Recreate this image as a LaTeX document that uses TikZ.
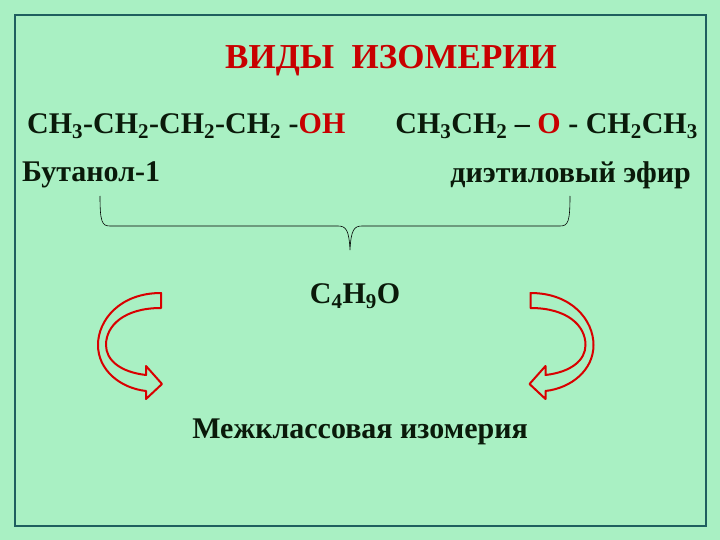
\documentclass[tikz,border=0pt]{standalone}
\usepackage{fontspec}
\setmainfont{Liberation Serif}
\begin{document}
\begin{tikzpicture}[x=1pt,y=-1pt,
  txt/.style={inner sep=0pt,font=\fontsize{30}{34}\selectfont\bfseries,text=textdark},
  frm/.style={inner sep=0pt,font=\fontsize{30}{34}\selectfont\bfseries,text=textdark},
  arr/.style={draw=red!85!black,line width=2pt,fill=bggreen,line join=round}]
\definecolor{bggreen}{HTML}{A9F0C3}
\definecolor{frame}{HTML}{1F5F5F}
\definecolor{dred}{HTML}{C80000}
\definecolor{textdark}{HTML}{0A1A0A}
\useasboundingbox (0,0) rectangle (720,540);
\fill[bggreen] (0,0) rectangle (720,540);
\draw[frame,line width=1.5pt] (15,15) rectangle (706,526);
\node[txt,text=dred,font=\fontsize{35}{38}\selectfont\bfseries] (title) at (391,61) {ВИДЫ\ \ ИЗОМЕРИИ};
\node[frm,anchor=west] (f1) at (27,126) {CH\textsubscript{3}-CH\textsubscript{2}-CH\textsubscript{2}-CH\textsubscript{2} -\textcolor{dred}{OH}};
\node[frm,anchor=east] (f2) at (698,126) {CH\textsubscript{3}CH\textsubscript{2} -- \textcolor{dred}{O} - CH\textsubscript{2}CH\textsubscript{3}};
\node[txt,anchor=west] (n1) at (22,175) {Бутанол-1};
\node[txt,anchor=east] (n2) at (691,175) {диэтиловый эфир};
\draw[black,line width=0.6pt] (100,196) .. controls (100,222) and (102,226) .. (110,226) -- (338,226) .. controls (346,226) and (349,230) .. (350,250)
  (350,250) .. controls (351,230) and (354,226) .. (362,226) -- (560,226) .. controls (568,226) and (570,222) .. (570,196);
\node[txt] (c4) at (355,296) {C\textsubscript{4}H\textsubscript{9}O};
\node[txt] (mk) at (360,432) {Межклассовая изомерия};
\draw[arr] (161,293) .. controls (120,293) and (98,320) .. (98,345) .. controls (98,370) and (120,388) .. (146,391) -- (146,399) -- (162,384) -- (146,366) -- (146,375) .. controls (120,372) and (106,360) .. (106,345) .. controls (106,325) and (125,308) .. (161,308) -- cycle;
\begin{scope}[xshift=691.5pt,xscale=-1]
\draw[arr] (161,293) .. controls (120,293) and (98,320) .. (98,345) .. controls (98,370) and (120,388) .. (146,391) -- (146,399) -- (162,384) -- (146,366) -- (146,375) .. controls (120,372) and (106,360) .. (106,345) .. controls (106,325) and (125,308) .. (161,308) -- cycle;
\end{scope}
\end{tikzpicture}
\end{document}
